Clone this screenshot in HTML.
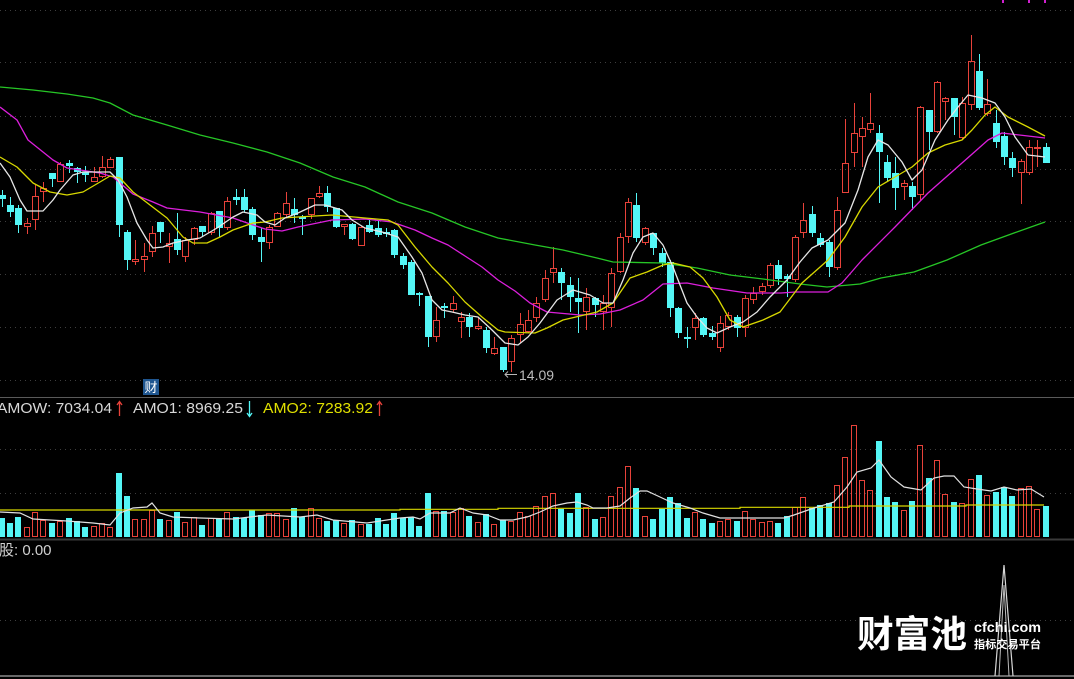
<!DOCTYPE html>
<html><head><meta charset="utf-8"><style>
html,body{margin:0;padding:0;background:#000;width:1074px;height:679px;overflow:hidden}
svg{display:block}
</style></head><body>
<svg width="1074" height="679" viewBox="0 0 1074 679" xmlns="http://www.w3.org/2000/svg">
<rect width="1074" height="679" fill="#000"/>
<g stroke="#3e3e3e" stroke-width="1" stroke-dasharray="1 4">
<path d="M0 10.5H1074M0 62.5H1074M0 116.5H1074M0 169.5H1074M0 221.5H1074M0 274.5H1074M0 327.5H1074M0 380.5H1074M0 449.5H1074M0 493.5H1074M0 620.5H1074"/>
</g>
<path d="M0 397.5H1074" stroke="#5a5a5a"/>
<path d="M0 539.5H1074" stroke="#3a3a3a" stroke-width="2"/>
<path d="M0 676H1074" stroke="#8a8a8a" stroke-width="1.5"/>
<g fill="#d020d0"><rect x="1002" y="0" width="2" height="3"/><rect x="1028" y="0" width="2" height="3"/><rect x="1044" y="0" width="2" height="3"/></g>

<!-- cyan candles -->
<path stroke="#54f6f6" stroke-width="1" fill="none" d="M2.5 190V207M10.5 197V217M18.5 205V233M52.5 173V187M69.5 160V173M77.5 167V183M85.5 166V182M119.5 157V237M127.5 230V270M160.5 222V243M177.5 213V255M202.5 226V237M219.5 211V237M236.5 189V205M244.5 189V212M252.5 207V240M261.5 228V262M294.5 198V223M302.5 215V235M327.5 186V212M336.5 208V228M352.5 223V240M369.5 219V233M378.5 221V237M386.5 228V237M394.5 229V258M403.5 253V269M411.5 260V295M419.5 292V306M428.5 296V347M444.5 303V318M469.5 313V337M486.5 327V353M503.5 347V372M561.5 268V300M570.5 277V312M578.5 278V333M595.5 297V317M636.5 193V242M653.5 233V255M662.5 248V267M670.5 260V317M678.5 307V338M687.5 327V348M703.5 317V337M712.5 326V340M737.5 315V337M778.5 260V285M787.5 274V297M812.5 206V237M820.5 233V247M829.5 240V277M879.5 125V203M887.5 155V182M895.5 157V210M912.5 182V210M929.5 110V150M954.5 98V135M979.5 54V110M996.5 110V148M1004.5 132V165M1012.5 152V177M1046.5 143V163"/>
<path fill="#54f6f6" d="M-1 195h7v4h-7zM7 205h7v7h-7zM15 208h7v17h-7zM49 173h7v6h-7zM66 163h7v3h-7zM74 168h7v4h-7zM82 172h7v3h-7zM116 157h7v68h-7zM124 232h7v28h-7zM157 222h7v10h-7zM174 239h7v11h-7zM199 226h7v6h-7zM216 211h7v17h-7zM233 197h7v3h-7zM241 197h7v13h-7zM249 209h7v26h-7zM258 237h7v5h-7zM291 209h7v6h-7zM299 217h7v2h-7zM324 193h7v14h-7zM333 208h7v19h-7zM349 224h7v15h-7zM366 225h7v7h-7zM375 228h7v7h-7zM383 232h7v2h-7zM391 230h7v25h-7zM400 256h7v9h-7zM408 262h7v33h-7zM416 293h7v2h-7zM425 296h7v41h-7zM441 306h7v2h-7zM466 317h7v10h-7zM483 330h7v18h-7zM500 347h7v23h-7zM558 272h7v11h-7zM567 285h7v12h-7zM575 298h7v4h-7zM592 298h7v7h-7zM633 205h7v33h-7zM650 233h7v15h-7zM659 253h7v10h-7zM667 262h7v46h-7zM675 308h7v25h-7zM684 337h7v2h-7zM700 318h7v17h-7zM709 333h7v4h-7zM734 317h7v11h-7zM775 265h7v14h-7zM784 276h7v3h-7zM809 214h7v19h-7zM817 238h7v7h-7zM826 242h7v25h-7zM876 133h7v19h-7zM884 162h7v16h-7zM892 173h7v15h-7zM909 186h7v11h-7zM926 110h7v22h-7zM951 98h7v19h-7zM976 71h7v37h-7zM993 123h7v19h-7zM1001 136h7v21h-7zM1009 158h7v10h-7zM1043 147h7v16h-7z"/>

<!-- red candles -->
<path stroke="#e8423a" stroke-width="1" fill="none" d="M27.5 218V223M27.5 227V234M35.5 185V196M35.5 220V230M43.5 182V188M43.5 192V202M60.5 162V164M94.5 167V177M102.5 156V167M102.5 177V178M110.5 157V159M135.5 240V259M135.5 262V265M144.5 243V256M144.5 260V272M152.5 226V233M152.5 252V257M169.5 233V243M169.5 247V263M185.5 237V240M185.5 257V262M194.5 227V228M194.5 240V245M211.5 212V213M211.5 233V235M227.5 197V201M227.5 228V230M269.5 225V227M269.5 243V249M277.5 212V213M286.5 192V203M286.5 215V217M311.5 215V219M319.5 186V193M319.5 197V198M344.5 227V235M361.5 226V227M436.5 307V320M436.5 337V342M453.5 296V303M453.5 310V312M461.5 312V317M461.5 322V338M478.5 317V326M478.5 329V330M494.5 337V348M494.5 354V355M511.5 335V338M511.5 362V372M520.5 313V324M520.5 335V343M528.5 310V320M528.5 332V333M536.5 297V303M536.5 318V322M545.5 270V278M545.5 300V302M553.5 247V268M553.5 273V283M586.5 288V297M586.5 312V330M603.5 295V303M603.5 312V330M611.5 268V273M611.5 308V327M620.5 233V237M620.5 272V273M628.5 198V202M628.5 237V243M645.5 227V228M645.5 243V245M695.5 313V318M695.5 328V340M720.5 316V323M720.5 348V352M728.5 312V315M728.5 327V330M745.5 295V298M745.5 328V337M753.5 287V293M753.5 300V304M762.5 283V286M762.5 292V295M770.5 263V265M770.5 286V288M795.5 235V237M795.5 280V282M803.5 203V220M803.5 233V238M837.5 197V210M837.5 268V270M845.5 119V163M854.5 103V133M854.5 153V167M862.5 117V128M862.5 137V167M870.5 93V123M870.5 130V133M904.5 180V183M904.5 187V200M920.5 106V107M920.5 195V200M937.5 81V82M937.5 132V133M945.5 97V98M945.5 102V120M962.5 97V103M962.5 138V140M971.5 35V61M971.5 105V110M987.5 79V104M987.5 114V116M1021.5 159V161M1021.5 173V204M1029.5 140V147M1029.5 173V175M1037.5 140V147M1037.5 149V167"/>
<path stroke="#e8423a" stroke-width="1" fill="none" d="M24.5 223.5h6v3h-6zM32.5 196.5h6v23h-6zM40.5 188.5h6v3h-6zM57.5 164.5h6v17h-6zM91.5 177.5h6v4h-6zM99.5 167.5h6v9h-6zM107.5 159.5h6v8h-6zM132.5 259.5h6v2h-6zM141.5 256.5h6v3h-6zM149.5 233.5h6v18h-6zM166.5 243.5h6v3h-6zM182.5 240.5h6v16h-6zM191.5 228.5h6v11h-6zM208.5 213.5h6v19h-6zM224.5 201.5h6v26h-6zM266.5 227.5h6v15h-6zM274.5 213.5h6v13h-6zM283.5 203.5h6v11h-6zM308.5 198.5h6v16h-6zM316.5 193.5h6v3h-6zM341.5 224.5h6v2h-6zM358.5 227.5h6v18h-6zM433.5 320.5h6v16h-6zM450.5 303.5h6v6h-6zM458.5 317.5h6v4h-6zM475.5 326.5h6v2h-6zM491.5 348.5h6v5h-6zM508.5 338.5h6v23h-6zM517.5 324.5h6v10h-6zM525.5 320.5h6v11h-6zM533.5 303.5h6v14h-6zM542.5 278.5h6v21h-6zM550.5 268.5h6v4h-6zM583.5 297.5h6v14h-6zM600.5 303.5h6v8h-6zM608.5 273.5h6v34h-6zM617.5 237.5h6v34h-6zM625.5 202.5h6v34h-6zM642.5 228.5h6v14h-6zM692.5 318.5h6v9h-6zM717.5 323.5h6v24h-6zM725.5 315.5h6v11h-6zM742.5 298.5h6v29h-6zM750.5 293.5h6v6h-6zM759.5 286.5h6v5h-6zM767.5 265.5h6v20h-6zM792.5 237.5h6v42h-6zM800.5 220.5h6v12h-6zM834.5 210.5h6v57h-6zM842.5 163.5h6v29h-6zM851.5 133.5h6v19h-6zM859.5 128.5h6v8h-6zM867.5 123.5h6v6h-6zM901.5 183.5h6v3h-6zM917.5 107.5h6v87h-6zM934.5 82.5h6v49h-6zM942.5 98.5h6v3h-6zM959.5 103.5h6v34h-6zM968.5 61.5h6v43h-6zM984.5 104.5h6v9h-6zM1018.5 161.5h6v11h-6zM1026.5 147.5h6v25h-6zM1034.5 147.5h6v1h-6z"/>

<!-- MA lines -->
<g fill="none" stroke-width="1.3" stroke-linejoin="round">
<polyline stroke="#26c626" points="0,87 33,90 67,94 93,98 110,103 133,115 167,125 200,135 233,143 267,152 300,163 333,177 365,187 398,202 432,213 465,227 498,238 535,245 563,250 597,258 613,262 663,263 697,268 730,275 763,279 800,284 827,287 860,284 881,278 914,272 947,260 981,245 1014,233 1045,222"/>
<polyline stroke="#dc1fdc" points="0,107 17,120 28,140 53,160 67,168 100,173 113,177 133,194 153,202 167,208 200,212 233,218 253,225 265,229 282,231 298,227 332,220 365,219 392,222 415,230 432,238 448,245 465,256 482,267 498,280 515,291 530,303 547,312 580,315 600,314 620,310 643,300 663,284 687,283 713,288 747,293 781,293 795,292 828,292 842,283 862,260 895,227 928,193 962,163 988,140 1002,133 1028,136 1045,138"/>
<polyline stroke="#d8d800" points="0,157 17,167 33,183 50,192 67,195 83,192 100,182 110,176 120,178 133,192 150,205 167,218 183,237 193,243 207,243 220,237 233,230 253,223 265,222 282,218 298,217 332,215 365,218 388,220 398,225 415,247 432,267 448,283 465,302 482,317 498,330 505,332 535,333 547,328 563,320 597,312 613,303 630,278 647,272 663,265 673,263 690,267 703,278 717,297 730,320 743,327 763,320 780,312 802,283 828,260 845,237 862,207 878,187 895,177 912,167 928,153 945,145 962,140 972,130 985,115 995,107 1008,117 1028,127 1045,136"/>
<polyline stroke="#e6e6e6" points="0,163 10,177 20,200 27,211 43,211 53,200 60,190 73,175 83,172 110,172 118,180 127,197 137,223 147,240 153,248 163,247 173,243 187,240 200,238 217,228 233,217 243,212 257,215 265,222 275,225 285,218 298,213 315,205 325,205 342,210 352,220 365,228 382,232 398,237 412,257 422,273 432,300 442,310 452,312 465,315 478,317 492,330 505,343 518,345 528,337 540,323 557,300 573,290 590,295 603,303 613,303 623,280 633,253 643,237 653,233 663,245 673,267 687,303 697,317 707,328 717,333 730,327 743,322 757,312 770,297 787,280 800,262 812,248 828,240 845,223 858,190 868,157 878,140 888,145 902,162 912,180 922,170 935,140 948,120 958,107 968,95 982,98 995,103 1005,117 1015,137 1028,155 1045,157"/>
</g>

<!-- labels in main -->
<rect x="143" y="379" width="16" height="16" fill="#1f5690"/>
<text x="151" y="392" font-family="'Liberation Sans','Noto Sans CJK SC',sans-serif" font-size="13" fill="#ffffff" text-anchor="middle">财</text>
<path d="M517 374.5H505M508 371.5L505 374.5L508 377.5" stroke="#b8b8b8" fill="none"/>
<text x="519" y="380" font-family="'Liberation Sans',sans-serif" font-size="14" fill="#bcbcbc">14.09</text>

<!-- volume header -->
<g font-family="'Liberation Sans',sans-serif" font-size="15">
<text x="-3" y="413" fill="#d8d8d8" textLength="115" lengthAdjust="spacingAndGlyphs">AMOW: 7034.04</text>
<text x="133" y="413" fill="#d8d8d8" textLength="110" lengthAdjust="spacingAndGlyphs">AMO1: 8969.25</text>
<text x="263" y="413" fill="#e0e000" textLength="110" lengthAdjust="spacingAndGlyphs">AMO2: 7283.92</text>
</g>
<path d="M119.5 416V402M117 405L119.5 401.5L122 405" stroke="#e8423a" fill="none" stroke-width="1.3"/>
<path d="M249.5 401V416M247 413L249.5 416.5L252 413" stroke="#54f6f6" fill="none" stroke-width="1.3"/>
<path d="M379.5 416V402M377 405L379.5 401.5L382 405" stroke="#e8423a" fill="none" stroke-width="1.3"/>

<!-- volume bars -->
<path fill="#54f6f6" d="M-1 518h6V537h-6zM7 523h6V537h-6zM15 517h6V537h-6zM49 523h6V537h-6zM66 518h6V537h-6zM74 521h6V537h-6zM82 527h6V537h-6zM116 473h6V537h-6zM124 496h6V537h-6zM157 519h6V537h-6zM174 512h6V537h-6zM199 525h6V537h-6zM216 519h6V537h-6zM233 517h6V537h-6zM241 518h6V537h-6zM249 510h6V537h-6zM258 515h6V537h-6zM291 508h6V537h-6zM299 517h6V537h-6zM324 521h6V537h-6zM333 520h6V537h-6zM349 520h6V537h-6zM366 524h6V537h-6zM375 518h6V537h-6zM383 524h6V537h-6zM391 513h6V537h-6zM400 518h6V537h-6zM408 517h6V537h-6zM416 526h6V537h-6zM425 493h6V537h-6zM441 511h6V537h-6zM466 516h6V537h-6zM483 514h6V537h-6zM500 520h6V537h-6zM558 509h6V537h-6zM567 513h6V537h-6zM575 493h6V537h-6zM592 519h6V537h-6zM633 488h6V537h-6zM650 519h6V537h-6zM659 509h6V537h-6zM667 497h6V537h-6zM675 503h6V537h-6zM684 518h6V537h-6zM700 519h6V537h-6zM709 523h6V537h-6zM734 521h6V537h-6zM775 523h6V537h-6zM784 516h6V537h-6zM809 508h6V537h-6zM817 505h6V537h-6zM826 503h6V537h-6zM876 441h6V537h-6zM884 497h6V537h-6zM892 502h6V537h-6zM909 501h6V537h-6zM926 478h6V537h-6zM951 502h6V537h-6zM976 475h6V537h-6zM993 492h6V537h-6zM1001 487h6V537h-6zM1009 496h6V537h-6zM1043 506h6V537h-6z"/>
<path fill="none" stroke="#e8423a" stroke-width="1" d="M24.5 527.5h5V536.5h-5zM32.5 512.5h5V536.5h-5zM40.5 520.5h5V536.5h-5zM57.5 521.5h5V536.5h-5zM91.5 526.5h5V536.5h-5zM99.5 523.5h5V536.5h-5zM107.5 527.5h5V536.5h-5zM132.5 519.5h5V536.5h-5zM141.5 519.5h5V536.5h-5zM149.5 510.5h5V536.5h-5zM166.5 520.5h5V536.5h-5zM182.5 522.5h5V536.5h-5zM191.5 517.5h5V536.5h-5zM208.5 518.5h5V536.5h-5zM224.5 512.5h5V536.5h-5zM266.5 513.5h5V536.5h-5zM274.5 513.5h5V536.5h-5zM283.5 519.5h5V536.5h-5zM308.5 508.5h5V536.5h-5zM316.5 518.5h5V536.5h-5zM341.5 523.5h5V536.5h-5zM358.5 524.5h5V536.5h-5zM433.5 511.5h5V536.5h-5zM450.5 512.5h5V536.5h-5zM458.5 508.5h5V536.5h-5zM475.5 522.5h5V536.5h-5zM491.5 524.5h5V536.5h-5zM508.5 521.5h5V536.5h-5zM517.5 512.5h5V536.5h-5zM525.5 516.5h5V536.5h-5zM533.5 506.5h5V536.5h-5zM542.5 496.5h5V536.5h-5zM550.5 493.5h5V536.5h-5zM583.5 507.5h5V536.5h-5zM600.5 517.5h5V536.5h-5zM608.5 496.5h5V536.5h-5zM617.5 487.5h5V536.5h-5zM625.5 466.5h5V536.5h-5zM642.5 516.5h5V536.5h-5zM692.5 512.5h5V536.5h-5zM717.5 521.5h5V536.5h-5zM725.5 519.5h5V536.5h-5zM742.5 511.5h5V536.5h-5zM750.5 519.5h5V536.5h-5zM759.5 522.5h5V536.5h-5zM767.5 521.5h5V536.5h-5zM792.5 507.5h5V536.5h-5zM800.5 497.5h5V536.5h-5zM834.5 485.5h5V536.5h-5zM842.5 457.5h5V536.5h-5zM851.5 425.5h5V536.5h-5zM859.5 480.5h5V536.5h-5zM867.5 490.5h5V536.5h-5zM901.5 510.5h5V536.5h-5zM917.5 445.5h5V536.5h-5zM934.5 460.5h5V536.5h-5zM942.5 494.5h5V536.5h-5zM959.5 503.5h5V536.5h-5zM968.5 479.5h5V536.5h-5zM984.5 495.5h5V536.5h-5zM1018.5 488.5h5V536.5h-5zM1026.5 486.5h5V536.5h-5zM1034.5 509.5h5V536.5h-5z"/>
<g fill="none" stroke-width="1.2">
<polyline stroke="#d8d800" points="0,510 400,510 400,509.3 498,509.3 498,508.3 740,508.3 740,507.3 849,507.3 849,506 966,506 966,505 1044,505"/>
<polyline stroke="#e0e0e0" points="0,512 20,513 33,519 67,521 93,523 110,525 120,513 133,508 147,507 152,503 160,513 173,517 200,518 233,519 267,515 300,517 317,515 333,520 367,523 400,518 413,517 420,519 430,513 450,513 460,508 473,513 487,515 500,520 513,520 527,517 540,512 553,506 567,503 577,502 587,505 593,508 607,508 620,506 630,498 640,491 647,491 660,497 673,503 690,508 703,513 720,518 744,518 784,518 794,515 811,509 834,502 847,487 857,472 871,468 879,460 891,477 904,487 921,490 934,478 944,476 954,476 964,487 977,489 991,491 1004,487 1017,490 1031,489 1044,497"/>
</g>

<!-- bottom panel -->
<text x="-1" y="555" font-family="'Liberation Sans','Noto Sans CJK SC',sans-serif" font-size="15" fill="#d0d0d0">股: 0.00</text>
<polyline fill="none" stroke="#d8d8d8" stroke-width="1.2" points="995,676 1004,565 1013,676"/>
<polyline fill="none" stroke="#bbbbbb" stroke-width="1" points="999,676 1004,585 1009,676"/>
<text x="857" y="647" font-family="'Noto Sans CJK SC','WenQuanYi Zen Hei',sans-serif" font-size="37" font-weight="bold" fill="#ffffff" textLength="110" lengthAdjust="spacingAndGlyphs">财富池</text>
<text x="974" y="632" font-family="'Liberation Sans',sans-serif" font-size="14" font-weight="bold" fill="#ffffff" textLength="67" lengthAdjust="spacingAndGlyphs">cfchi.com</text>
<text x="974" y="648" font-family="'Liberation Sans','Noto Sans CJK SC',sans-serif" font-size="11" font-weight="bold" fill="#ffffff" textLength="67" lengthAdjust="spacingAndGlyphs">指标交易平台</text>
</svg>
</body></html>
